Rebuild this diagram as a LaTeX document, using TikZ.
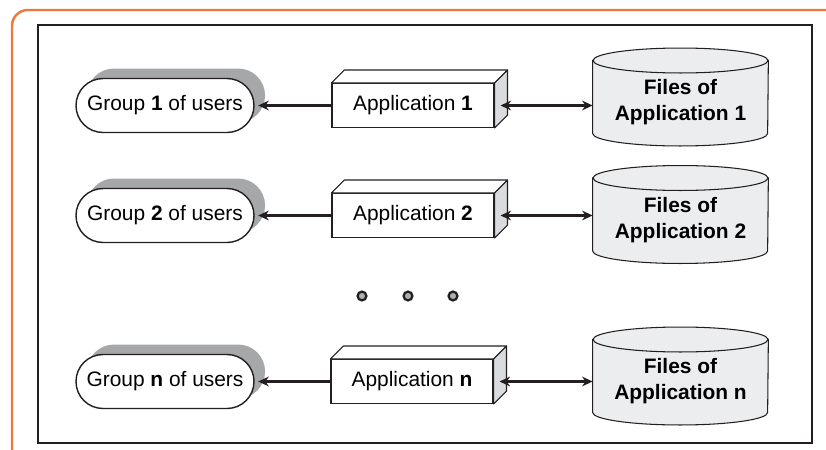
\documentclass[tikz,border=0pt]{standalone}
\usepackage{fontspec}
\setmainfont{Liberation Sans}
\usetikzlibrary{arrows.meta,calc,shadows,backgrounds}

\definecolor{frameorange}{RGB}{239,119,61}
\definecolor{inkblack}{RGB}{35,31,32}
\definecolor{shadowgray}{RGB}{166,167,169}
\definecolor{sidegray}{RGB}{218,219,222}
\definecolor{filesgray}{RGB}{236,237,239}
\definecolor{dotgray}{RGB}{172,174,177}

\tikzset{
  usersbox/.style={draw=inkblack, line width=0.8pt, fill=white,
    rounded corners=15.3pt, minimum width=101.3pt, minimum height=30.7pt,
    inner sep=0pt,
    drop shadow={shadow xshift=6.3pt, shadow yshift=5.7pt,
      fill=shadowgray, opacity=1}},
  appbox/.style={draw=inkblack, line width=0.6pt, fill=white,
    minimum width=92.2pt, minimum height=25pt, inner sep=0pt},
  apptop/.style={draw=inkblack, line width=0.6pt, fill=white,
    line join=round},
  appside/.style={draw=inkblack, line width=0.6pt, fill=sidegray,
    line join=round},
  filesbox/.style={minimum width=99.6pt, inner sep=0pt, align=center,
    font=\fontsize{11.9}{14.7}\selectfont\bfseries},
  filesshape/.style={draw=inkblack, line width=0.6pt, fill=filesgray},
  usersarrow/.style={draw=inkblack, -{Stealth[length=6pt,width=5.5pt]},
    shorten >=2pt},
  filesarrow/.style={draw=inkblack, line width=2pt,
    {Stealth[length=6pt,width=5.5pt]}-{Stealth[length=6pt,width=5.5pt]}},
  dotmark/.style={circle, draw=inkblack, line width=1.3pt, fill=dotgray,
    minimum size=5pt, inner sep=0pt}
}

\begin{document}
\begin{tikzpicture}[x=0.02cm, y=-0.02cm,
    font=\fontsize{11.9}{14.7}\selectfont]
  \clip (0,0) rectangle (826,450);

  % Frames
  \draw[frameorange, line width=1.4pt, rounded corners=9pt] (12,480) |- (860,10);
  \draw[inkblack, line width=1.2pt] (38,25) rectangle (812,443);

  % Row 1
  \node[usersbox] (grp1) at (165,105.5) {Group \textbf{1} of users};
  \node[appbox] (app1) at (413,105.5) {Application \textbf{1}};
  \node[filesbox] (files1) at (680.5,102.5) {Files of\\Application 1};

  % Row 2
  \node[usersbox] (grp2) at (165,215.5) {Group \textbf{2} of users};
  \node[appbox] (app2) at (413,215.5) {Application \textbf{2}};
  \node[filesbox] (files2) at (680.5,220) {Files of\\Application 2};

  % Row n
  \node[usersbox] (grpn) at (165,381.5) {Group \textbf{n} of users};
  \node[appbox] (appn) at (412,381.5) {Application \textbf{n}};
  \node[filesbox] (filesn) at (680.5,381.5) {Files of\\Application n};

  % Box faces of the applications
  \draw[apptop] (app1.north west) -- ++(13,-13) -- ($(app1.north east)+(13,-13)$) -- (app1.north east) -- cycle;
  \draw[appside] (app1.north east) -- ++(13,-13) -- ($(app1.south east)+(13,-13)$) -- (app1.south east) -- cycle;
  \draw[apptop] (app2.north west) -- ++(13,-13) -- ($(app2.north east)+(13,-13)$) -- (app2.north east) -- cycle;
  \draw[appside] (app2.north east) -- ++(13,-13) -- ($(app2.south east)+(13,-13)$) -- (app2.south east) -- cycle;
  \draw[apptop] (appn.north west) -- ++(13,-13) -- ($(appn.north east)+(13,-13)$) -- (appn.north east) -- cycle;
  \draw[appside] (appn.north east) -- ++(13,-13) -- ($(appn.south east)+(13,-13)$) -- (appn.south east) -- cycle;

  % Cylinders behind the file texts
  \begin{scope}[on background layer]
    \draw[filesshape] ($(files1.west)+(0,-42)$) -- ($(files1.west)+(0,31)$)
      arc[start angle=180, end angle=360, x radius=49.8pt, y radius=7.1pt]
      -- ($(files1.east)+(0,-42)$) -- cycle;
    \draw[filesshape] ($(files1.center)+(0,-42)$) ellipse[x radius=49.8pt, y radius=7.1pt];
    \draw[filesshape] ($(files2.west)+(0,-42)$) -- ($(files2.west)+(0,31)$)
      arc[start angle=180, end angle=360, x radius=49.8pt, y radius=7.1pt]
      -- ($(files2.east)+(0,-42)$) -- cycle;
    \draw[filesshape] ($(files2.center)+(0,-42)$) ellipse[x radius=49.8pt, y radius=7.1pt];
    \draw[filesshape] ($(filesn.west)+(0,-42)$) -- ($(filesn.west)+(0,31)$)
      arc[start angle=180, end angle=360, x radius=49.8pt, y radius=7.1pt]
      -- ($(filesn.east)+(0,-42)$) -- cycle;
    \draw[filesshape] ($(filesn.center)+(0,-42)$) ellipse[x radius=49.8pt, y radius=7.1pt];
  \end{scope}

  % Arrows
  \draw[usersarrow, line width=2pt] (app1.west) -- (grp1.east);
  \draw[usersarrow, line width=1.3pt] (app2.west) -- (grp2.east);
  \draw[usersarrow, line width=1.3pt] (appn.west) -- (grpn.east);
  \draw[filesarrow] ([xshift=3.4pt]app1.east) -- (app1.east -| files1.west);
  \draw[filesarrow] ([xshift=3.4pt]app2.east) -- (app2.east -| files2.west);
  \draw[filesarrow] ([xshift=3.4pt]appn.east) -- (appn.east -| filesn.west);

  % Dots
  \node[dotmark] (dot1) at (362,296) {};
  \node[dotmark] (dot2) at (408,296) {};
  \node[dotmark] (dot3) at (453,296) {};
\end{tikzpicture}
\end{document}
